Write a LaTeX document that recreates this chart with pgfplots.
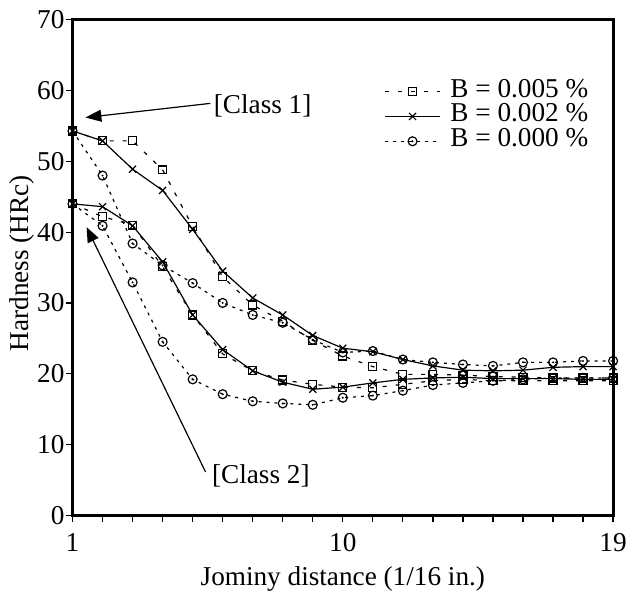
\documentclass[border=0pt]{standalone}
\usepackage{fontspec}
\setmainfont{Liberation Serif}
\usepackage{pgfplots}
\usepackage{pgfplotstable}
\pgfplotsset{compat=1.18}
\usetikzlibrary{arrows.meta}

% circle with a dot in the middle
\pgfdeclareplotmark{odot}{%
  \pgfpathcircle{\pgfpointorigin}{\pgfplotmarksize}\pgfusepathqstroke
  \pgfpathcircle{\pgfpointorigin}{0.25\pgfplotmarksize}\pgfusepathqfill}

\newcommand\bigfont{\fontsize{27.5}{30}\selectfont}

% a = 0.005 %, b = 0.002 %, c = 0.000 %
\pgfplotstableread{
x  c1a  c1b  c1c  c2a  c2b  c2c
1  54.3 54.3 54.3 44.0 44.0 44.0
2  52.9 52.9 48.0 42.2 43.6 40.9
3  52.9 48.9 38.4 41.0 40.9 32.9
4  48.8 45.9 35.3 35.1 35.8 24.5
5  40.8 40.4 32.8 28.3 28.3 19.2
6  33.7 34.5 30.0 22.8 23.4 17.1
7  29.7 30.7 28.3 20.4 20.4 16.1
8  27.4 28.3 27.2 19.1 18.8 15.8
9  24.7 25.4 24.8 18.5 17.8 15.6
10 22.5 23.6 23.0 18.1 18.1 16.6
11 21.0 23.1 23.2 18.0 18.7 16.9
12 19.9 22.0 22.0 18.5 19.2 17.6
13 19.9 21.1 21.6 19.0 19.4 18.4
14 19.8 20.5 21.3 19.2 19.5 18.7
15 19.6 20.4 21.1 19.0 19.3 19.0
16 19.5 20.5 21.6 19.0 19.3 19.2
17 19.4 20.9 21.6 19.0 19.3 19.4
18 19.4 21.0 21.8 19.0 19.2 19.4
19 19.4 21.0 21.8 19.0 19.2 19.4
}\hard

\begin{document}
\begin{tikzpicture}
\begin{axis}[
  scale only axis, width=544bp, height=498.5bp,
  xmin=1, xmax=19, ymin=0, ymax=70,
  xtick={1,10,19},
  minor xtick={2,3,4,5,6,7,8,9,11,12,13,14,15,16,17,18},
  ytick={0,10,...,70},
  tick align=outside, tick pos=left,
  major tick length=7bp, minor tick length=7bp,
  every major tick/.style={black, line width=1.2bp},
  every minor tick/.style={black, line width=1.2bp},
  axis line style={line width=3bp},
  font=\bigfont,
  tick label style={font=\bigfont},
  /pgf/number format/assume math mode=true,
  yticklabel style={inner xsep=1bp},
  xticklabel style={yshift=-8bp},
  xlabel={Jominy distance (1/16 in.)},
  ylabel={Hardness (HRc)},
  x label style={at={(axis description cs:0.5,-0.129)}, anchor=center, font=\bigfont},
  y label style={at={(axis description cs:-0.0938,0.5085)}, anchor=center, font=\bigfont},
  legend style={at={(rel axis cs:0.577,0.8807)}, anchor=north west,
    draw=none, fill=none, inner sep=0pt, row sep=0pt,
    nodes={inner sep=0pt, text height=18bp, text depth=7bp, font=\bigfont}},
  legend cell align=left,
  legend image code/.code={\draw[mark repeat=2,mark phase=2,#1]
    plot coordinates {(0bp,0bp) (27.5bp,0bp) (55bp,0bp)};},
  sq/.style={black, line width=1.2bp, dash pattern=on 4bp off 9bp,
    mark=square, mark size=4bp, mark options={solid}},
  cr/.style={black, line width=1.2bp, mark=x, mark size=5bp, mark options={solid}},
  ci/.style={black, line width=1.2bp, dash pattern=on 3bp off 5bp,
    mark=odot, mark size=4.5bp, mark options={solid}},
]
\addplot[sq] table[x=x, y=c1a] {\hard};
\addlegendentry{\hspace{10bp}B = 0.005 \%}
\addplot[cr] table[x=x, y=c1b] {\hard};
\addlegendentry{\hspace{10bp}B = 0.002 \%}
\addplot[ci] table[x=x, y=c1c] {\hard};
\addlegendentry{\hspace{10bp}B = 0.000 \%}
\addplot[sq, forget plot] table[x=x, y=c2a] {\hard};
\addplot[cr, forget plot] table[x=x, y=c2b] {\hard};
\addplot[ci, forget plot] table[x=x, y=c2c] {\hard};

\draw[-{Triangle[length=16bp,width=12bp]}, line width=1.2bp]
  (axis cs:5.59,58.2) -- (axis cs:1.43,56.2);
\node[anchor=west, inner sep=0pt] at (axis cs:5.7,57.8) {[Class 1]};
\draw[-{Triangle[length=15bp,width=12bp]}, line width=1.2bp]
  (axis cs:5.43,6.1) -- (axis cs:1.47,40.7);
\node[anchor=west, inner sep=0pt] at (axis cs:5.64,5.5) {[Class 2]};

\coordinate (ll) at (rel axis cs:0,0);
\coordinate (ur) at (rel axis cs:1,1);
\end{axis}
\path ([shift={(-73bp,-78.5bp)}]ll) rectangle ([shift={(13bp,20bp)}]ur);
\end{tikzpicture}
\end{document}
